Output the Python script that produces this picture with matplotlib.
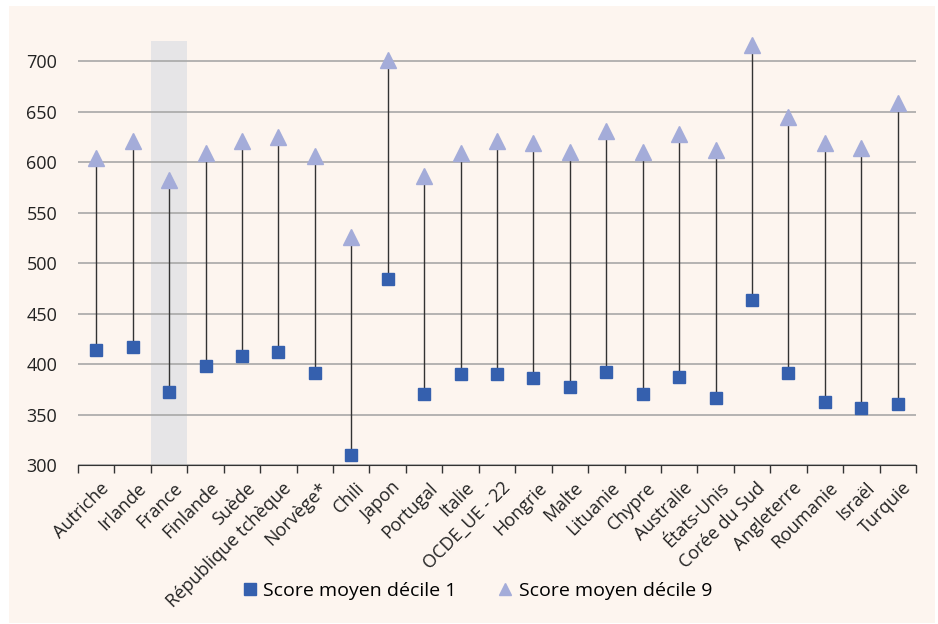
import numpy as np
import matplotlib.pyplot as plt
import matplotlib.transforms as mtransforms
from matplotlib.patches import Rectangle
from matplotlib.lines import Line2D

plt.rcParams["font.family"] = ["Open Sans", "DejaVu Sans"]

# données
pays = ["Autriche", "Irlande", "France", "Finlande", "Suède", "République tchèque",
        "Norvège*", "Chili", "Japon", "Portugal", "Italie", "OCDE_UE - 22", "Hongrie",
        "Malte", "Lituanie", "Chypre", "Australie", "États-Unis", "Corée du Sud",
        "Angleterre", "Roumanie", "Israël", "Turquie"]
decile1 = [414, 417, 372, 398, 408, 412, 391, 310, 484, 370, 390, 390, 386,
           377, 392, 370, 387, 366, 463, 391, 362, 356, 360]
decile9 = [604, 621, 582, 609, 621, 625, 606, 526, 701, 586, 609, 621, 619,
           610, 631, 610, 628, 612, 716, 645, 619, 614, 659]
yticks = [300, 350, 400, 450, 500, 550, 600, 650, 700]

bleu = "#3560ae"
lilas = "#a4acd9"
fond = "#fdf5ef"

fig = plt.figure(figsize=(9.38, 6.24), dpi=100, facecolor="white")
fond_rect = Rectangle((9 / 938, 1 - 623 / 624), 926 / 938, 617 / 624,
                      transform=fig.transFigure, facecolor=fond,
                      edgecolor="none", zorder=-10)
fig.add_artist(fond_rect)
ax = fig.add_axes([78 / 938, 1 - 465 / 624, 838 / 938, 424 / 624])
ax.set_zorder(1)
ax.set_facecolor("none")

x = np.arange(len(pays))
# bande France
i_fr = pays.index("France")
ax.axvspan(i_fr - 0.5, i_fr + 0.5, color="#e6e5e7", zorder=0.5, lw=0)

ax.vlines(x, decile1, decile9, color="#333333", lw=1, zorder=2)
ax.plot(x, decile1, "s", color=bleu, ms=8, zorder=3, clip_on=False)
ax.plot(x, decile9, "^", color=lilas, ms=11, zorder=3, clip_on=False)

ax.set_xlim(-0.5, len(pays) - 0.5)
ax.set_ylim(300, 720)
ax.set_yticks(yticks)
ax.tick_params(axis="y", length=0, pad=15, labelsize=13, labelcolor="#222222")
ax.yaxis.grid(True, color="#a8a8a8", lw=1.2)
ax.set_axisbelow(True)

ax.set_xticks(x)
ax.set_xticklabels(pays, rotation=45, ha="right", rotation_mode="anchor",
                   fontsize=13, color="#222222")
ax.tick_params(axis="x", which="major", length=0, pad=10)
decal = mtransforms.ScaledTranslation(4 / 100, 0, fig.dpi_scale_trans)
for lab in ax.get_xticklabels():
    lab.set_transform(lab.get_transform() + decal)
ax.set_xticks(np.arange(len(pays) + 1) - 0.5, minor=True)
ax.tick_params(axis="x", which="minor", length=6, width=1, color="#333333")

for s in ["top", "right", "left"]:
    ax.spines[s].set_visible(False)
ax.spines["bottom"].set_color("#333333")

handles = [Line2D([], [], ls="none", marker="s", color=bleu, ms=8),
           Line2D([], [], ls="none", marker="^", color=lilas, ms=8)]
fig.legend(handles, ["Score moyen décile 1", "Score moyen décile 9"],
           loc="center", bbox_to_anchor=(476 / 938, 1 - 591 / 624), ncol=2,
           frameon=False, fontsize=14, handletextpad=0.2, columnspacing=2,
           handlelength=1)

fig.savefig("out.png", dpi=100, facecolor=fig.get_facecolor())
